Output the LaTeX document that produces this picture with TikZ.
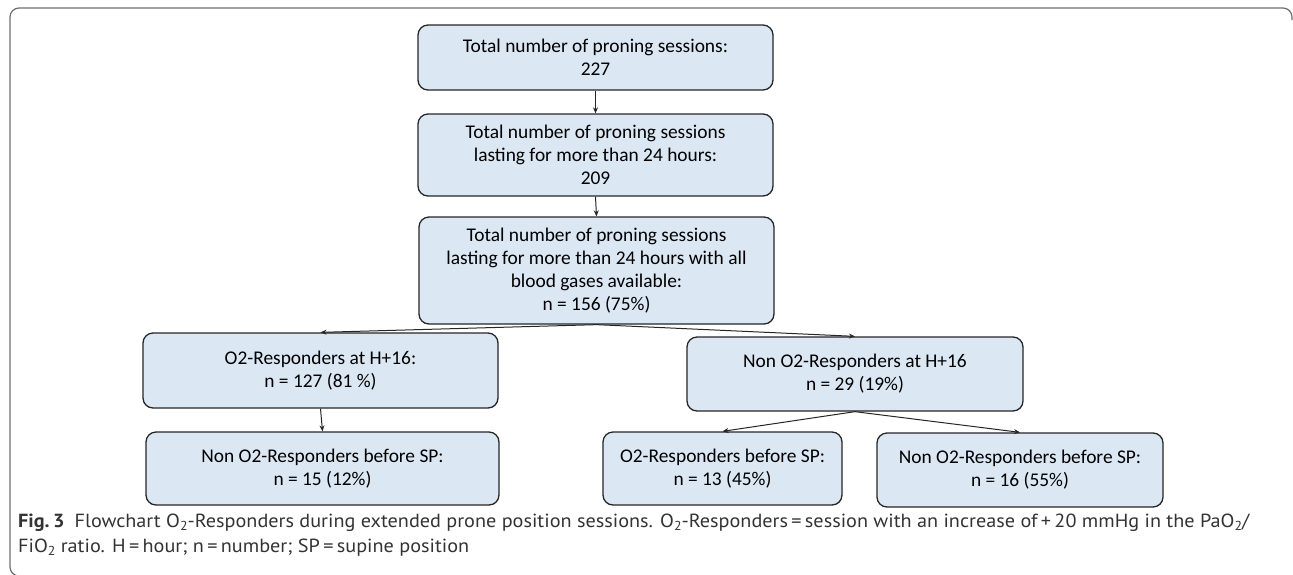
\documentclass[tikz,border=0pt]{standalone}
\usepackage{fontspec}
\setmainfont{Carlito}
\newfontfamily\capfont{PT Sans}
\usetikzlibrary{arrows.meta}
\newcommand{\lowtwo}{\raisebox{-0.35ex}{\fontsize{13}{13}\selectfont 2}}
\newcommand{\capfirst}{\textbf{Fig.\,3}\enspace Flowchart O\lowtwo-Responders during extended prone position sessions. O\lowtwo-Responders\,=\,session with an increase of\,+\,20 mmHg in the PaO\lowtwo/}
\newcommand{\capsecond}{FiO\lowtwo{} ratio. H\,=\,hour; n\,=\,number; SP\,=\,supine position}
\newcommand{\capsize}{\capfont\fontsize{19}{25}\selectfont}
\newlength{\capw}
\newcommand{\fitcap}[1]{\settowidth{\capw}{\capfirst}\pgfmathsetmacro{\capfac}{1231/max(\capw,1)}\scalebox{\capfac}[1]{#1}}
\definecolor{boxfill}{HTML}{DCE7F4}
\definecolor{boxline}{HTML}{262626}
\definecolor{framecol}{HTML}{6E6E6E}
\definecolor{capcol}{HTML}{333333}
\tikzset{
  flowbox/.style={draw=boxline, fill=boxfill, line width=1.3pt, rounded corners=10pt,
    align=center, inner sep=0pt, font=\fontsize{19.4}{23}\selectfont, text=black},
  flowarrow/.style={-{Stealth[length=6pt,width=5pt]}, line width=1pt, draw=boxline},
  captext/.style={anchor=base west, inner sep=0pt, text=capcol, font=\capsize},
}
\begin{document}
\begin{tikzpicture}[x=1pt,y=-1pt]
\useasboundingbox (0,0) rectangle (1293,574);
\draw[framecol, line width=1.2pt, rounded corners=9pt] (24,576) -- (10,576) -- (10,8) -- (1292,8) -- (1292,20);

\node[flowbox, minimum width=355pt, minimum height=65pt] (b1) at (595.5,57.5)
  {Total number of proning sessions:\\227};
\node[flowbox, minimum width=355pt, minimum height=82pt] (b2) at (595.5,155)
  {Total number of proning sessions\\lasting for more than 24 hours:\\209};
\node[flowbox, minimum width=355pt, minimum height=107pt] (b3) at (596.5,270.5)
  {Total number of proning sessions\\lasting for more than 24 hours with all\\blood gases available:\\n = 156 (75\%)};
\node[flowbox, minimum width=355pt, minimum height=75pt] (b4) at (320.5,370.5)
  {O2-Responders at H+16:\\n = 127 (81 \%)};
\node[flowbox, minimum width=353pt, minimum height=73pt] (b5) at (322.5,468.5)
  {Non O2-Responders before SP:\\n = 15 (12\%)};
\node[flowbox, minimum width=336pt, minimum height=74pt] (b6) at (855,374)
  {Non O2-Responders at H+16\\n = 29 (19\%)};
\node[flowbox, minimum width=239pt, minimum height=73pt] (b7) at (722.5,468.5)
  {O2-Responders before SP:\\n = 13 (45\%)};
\node[flowbox, minimum width=286pt, minimum height=74pt] (b8) at (1020,470)
  {Non O2-Responders before SP:\\n = 16 (55\%)};

\draw[flowarrow] (b1.south) -- (b2.north);
\draw[flowarrow] (b2.south) -- (b3.north);
\draw[flowarrow] (b3.south) -- (b4.north);
\draw[flowarrow] (b3.south) -- (b6.north);
\draw[flowarrow] (b4.south) -- (b5.north);
\draw[flowarrow] (b6.south) -- (b7.north);
\draw[flowarrow] (b6.south) -- (b8.north);

\node[captext] (cap1) at (18,527) {\fitcap{\capfirst}};
\node[captext] (cap2) at (18,552) {\fitcap{\capsecond}};
\end{tikzpicture}
\end{document}
